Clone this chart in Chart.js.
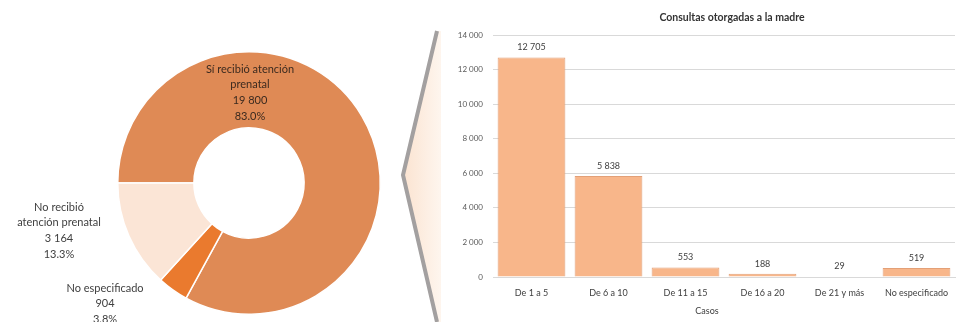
<!DOCTYPE html>
<html><head><meta charset="utf-8">
<script src="https://cdn.jsdelivr.net/npm/chart.js@4/dist/chart.umd.min.js"></script>
<style>
html,body{margin:0;padding:0;background:#fff;width:958px;height:322px;overflow:hidden;}
#pie{position:absolute;left:0;top:0;}
#bar{position:absolute;left:400px;top:0;}
</style></head><body>
<canvas id="pie" width="400" height="322"></canvas>
<canvas id="bar" width="558" height="322"></canvas>
<script>
// ---- data ----
const pieCategories = ['Sí recibió atención prenatal', 'No especificado', 'No recibió atención prenatal'];
const pieLabelLines = [['Sí recibió atención', 'prenatal'], ['No especificado'], ['No recibió', 'atención prenatal']];
const pieValues = [19800, 904, 3164];
const pieColors = ['#DF8A55', '#EA7A2E', '#FBE5D6'];

const barCategories = ['De 1 a 5', 'De 6 a 10', 'De 11 a 15', 'De 16 a 20', 'De 21 y más', 'No especificado'];
const barValues = [12705, 5838, 553, 188, 29, 519];
const yTicks = [0, 2000, 4000, 6000, 8000, 10000, 12000, 14000];
const chartTitle = 'Consultas otorgadas a la madre';
const xAxisTitle = 'Casos';

const FONT = 'Lato, "Open Sans", sans-serif';
const fmt = n => String(n).replace(/\B(?=(\d{3})+(?!\d))/g, ' ');

// ---- doughnut ----
const pieTotal = pieValues.reduce((a, b) => a + b, 0);
const pieLabelOffsets = [[1, -114], [-144, 105], [-190, 24]]; // first-line centre, relative to ring centre
const pieLabelPlugin = {
  id: 'pieLabels',
  afterDraw(chart) {
    const ctx = chart.ctx;
    const meta = chart.getDatasetMeta(0);
    const cx = meta.data[0].x, cy = meta.data[0].y;
    ctx.save();
    ctx.font = '11px ' + FONT;
    ctx.textAlign = 'center';
    ctx.textBaseline = 'middle';
    pieValues.forEach((v, i) => {
      const lines = pieLabelLines[i].concat([fmt(v), (v / pieTotal * 100).toFixed(1) + '%']);
      const [dx, dy] = pieLabelOffsets[i];
      ctx.fillStyle = i === 0 ? '#3b2a1f' : '#404040';
      lines.forEach((t, k) => ctx.fillText(t, cx + dx, cy + dy + k * 15.8));
    });
    ctx.restore();
  }
};

new Chart(document.getElementById('pie'), {
  type: 'doughnut',
  data: { labels: pieCategories, datasets: [{ data: pieValues, backgroundColor: pieColors, borderColor: '#ffffff', borderWidth: 1.5 }] },
  options: {
    responsive: false, animation: false, events: [],
    rotation: -90, cutout: '42%',
    layout: { padding: { left: 117, top: 51, right: 19, bottom: 7 } },
    plugins: { legend: { display: false }, tooltip: { enabled: false } }
  },
  plugins: [pieLabelPlugin]
});

// ---- bar chart ----
const chevronPlugin = {
  id: 'chevron',
  beforeDraw(chart) {
    const ctx = chart.ctx;
    ctx.save();
    const g = ctx.createLinearGradient(2, 0, 42, 0);
    g.addColorStop(0, '#FBE3D0');
    g.addColorStop(1, '#FEF6EF');
    ctx.fillStyle = g;
    ctx.beginPath();
    ctx.moveTo(37, 31); ctx.lineTo(2, 175); ctx.lineTo(37, 322); ctx.lineTo(41, 322); ctx.lineTo(41, 31); ctx.closePath();
    ctx.fill();
    ctx.strokeStyle = '#A3A0A0';
    ctx.lineWidth = 4;
    ctx.lineJoin = 'miter';
    ctx.beginPath();
    ctx.moveTo(37, 31); ctx.lineTo(3, 175); ctx.lineTo(37, 322);
    ctx.stroke();
    ctx.restore();
  }
};

const barTextPlugin = {
  id: 'barText',
  afterDraw(chart) {
    const ctx = chart.ctx;
    ctx.save();
    ctx.textAlign = 'center';
    ctx.textBaseline = 'middle';
    ctx.fillStyle = '#404040';
    ctx.font = '9px ' + FONT;
    const meta = chart.getDatasetMeta(0);
    meta.data.forEach((el, i) => ctx.fillText(fmt(barValues[i]), el.x, el.y - 10));
    ctx.font = 'bold 10.5px ' + FONT;
    ctx.fillStyle = '#333333';
    ctx.fillText(chartTitle, 332, 18);
    ctx.font = '9px ' + FONT;
    ctx.fillStyle = '#404040';
    ctx.fillText(xAxisTitle, 307, 311);
    ctx.restore();
  }
};

new Chart(document.getElementById('bar'), {
  type: 'bar',
  data: {
    labels: barCategories,
    datasets: [{ data: barValues, backgroundColor: '#F8B68A', borderColor: '#E3A077', borderWidth: 1, categoryPercentage: 0.88, barPercentage: 1 }]
  },
  options: {
    responsive: false, animation: false, events: [],
    layout: { padding: { left: 0, top: 35, right: 3, bottom: 0 } },
    plugins: { legend: { display: false }, tooltip: { enabled: false }, title: { display: false } },
    scales: {
      x: {
        grid: { display: false },
        border: { display: true, color: '#D9D9D9' },
        ticks: { font: { family: FONT, size: 9 }, color: '#404040', padding: 3, maxRotation: 0, autoSkip: false },
        afterFit(s) { s.height = 45; }
      },
      y: {
        min: 0, max: 14000,
        afterBuildTicks(s) { s.ticks = yTicks.map(v => ({ value: v })); },
        ticks: { callback: v => fmt(v), font: { family: FONT, size: 8 }, color: '#595959', padding: 10 },
        grid: { color: '#D9D9D9', drawTicks: false },
        border: { display: false },
        afterFit(s) { s.width = 93; }
      }
    }
  },
  plugins: [chevronPlugin, barTextPlugin]
});
</script>
</body></html>
